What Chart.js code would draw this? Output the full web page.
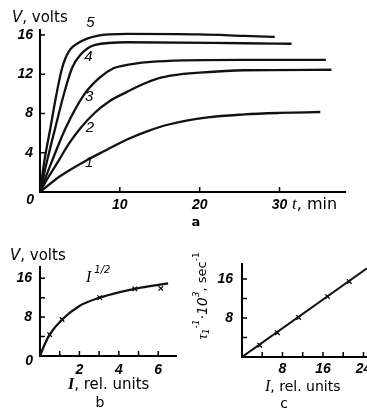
<!DOCTYPE html>
<html>
<head>
<meta charset="utf-8">
<script src="https://cdn.jsdelivr.net/npm/chart.js@4/dist/chart.umd.min.js"></script>
<style>
html,body{margin:0;padding:0;background:#fff;width:367px;height:411px;overflow:hidden;}
canvas{position:absolute;}
#ca{left:0;top:0;}
#cb{left:0;top:240px;}
#cc{left:190px;top:240px;}
</style>
</head>
<body>
<canvas id="ca" width="367" height="235"></canvas>
<canvas id="cb" width="190" height="171"></canvas>
<canvas id="cc" width="177" height="171"></canvas>
<script>
// ---------- DATA ----------
// Panel a: V (volts) vs t (min), curves 1..5
const a1T = [0, 2.5, 5.9, 8.0, 10.9, 13.5, 16, 21, 25.6, 30, 35.1];
const a1V = [0, 1.6, 3.25, 4.15, 5.35, 6.2, 6.85, 7.6, 7.9, 8.05, 8.15];
const a2T = [0, 1.0, 2.3, 3.6, 5.06, 6.9, 8.7, 10.9, 12.8, 14.7, 16.8, 20, 25.6, 36.5];
const a2V = [0, 1.45, 3.15, 4.9, 6.5, 8.1, 9.25, 10.2, 10.95, 11.55, 11.9, 12.15, 12.4, 12.45];
const a3T = [0, 1.5, 3.2, 5.5, 7.4, 9.2, 10.9, 14.7, 25.6, 35.8];
const a3V = [0, 3.15, 6.5, 9.9, 11.6, 12.6, 12.95, 13.3, 13.45, 13.45];
const a4T = [0, 0.88, 1.9, 2.97, 4.0, 5.06, 6.9, 10.9, 25.6, 31.5];
const a4V = [0, 3.15, 6.5, 9.9, 12.6, 13.97, 14.98, 15.25, 15.15, 15.1];
const a5T = [0, 0.54, 1.3, 2.05, 2.76, 3.6, 5.06, 7.15, 10.9, 20, 25.6, 29.4];
const a5V = [0, 3.15, 6.5, 9.9, 12.6, 14.3, 15.3, 15.9, 16.1, 16.05, 15.9, 15.8];
const aCurveNames = ['1', '2', '3', '4', '5'];
const aLabelT = [6.15, 6.24, 6.15, 6.06, 6.3];
const aLabelV = [2.94, 6.5, 9.7, 13.8, 17.2];
const aXTickLabels = [10, 20, 30];
const aYTickLabels = [4, 8, 12, 16];

// Panel b: V vs I (rel. units), I^1/2 curve and measured points
const bCurveI = [0, 0.25, 0.49, 1.12, 2, 3.03, 4, 4.81, 5.5, 6.5];
const bCurveV = [0, 2.5, 4.4, 7.5, 10.3, 12.0, 13.1, 13.8, 14.3, 14.95];
const bPointI = [0.49, 1.12, 3.03, 4.81, 6.13];
const bPointV = [4.4, 7.5, 12.0, 13.8, 13.9];
const bXTickLabels = [2, 4, 6];
const bYTickLabels = [8, 16];

// Panel c: tau^-1 * 10^3 (sec^-1) vs I (rel. units)
const cLineI = [0, 24.7];
const cLineV = [0, 18.2];
const cPointI = [3.5, 7.0, 11.2, 16.9, 21.2];
const cPointV = [2.4, 5.0, 8.1, 12.4, 15.5];
const cXTickLabels = [8, 16, 24];
const cYTickLabels = [8, 16];

// ---------- HELPERS ----------
const zip = (xs, ys) => xs.map((x, i) => ({x: x, y: ys[i]}));
const TICKFONT = {family: '"Liberation Sans Narrow", "Liberation Sans", sans-serif', size: 14, style: 'italic', weight: 'bold'};
const TICKFONT_CSS = 'italic bold 14px "Liberation Sans Narrow", "Liberation Sans", sans-serif';
const SANS = '"DejaVu Sans", sans-serif';

function fixSize(size) {
  return function(scale) {
    if (scale.isHorizontal()) scale.height = size; else scale.width = size;
    scale.paddingLeft = 0; scale.paddingRight = 0; scale.paddingTop = 0; scale.paddingBottom = 0;
  };
}

function axis(min, max, step, labeled, size, pad) {
  return {
    type: 'linear', min: min, max: max,
    border: {display: true, color: '#000', width: 2},
    grid: {display: false, drawTicks: false},
    ticks: {
      stepSize: step, includeBounds: false, autoSkip: false, maxRotation: 0, minRotation: 0,
      padding: pad, color: '#000', font: TICKFONT,
      callback: v => labeled.indexOf(v) >= 0 ? String(v) : ''
    },
    afterFit: fixSize(size)
  };
}

function drawRuns(ctx, runs, x, y, align, rotate) {
  ctx.save();
  ctx.translate(x, y);
  if (rotate) ctx.rotate(rotate);
  let total = 0;
  for (const r of runs) { ctx.font = r.font; total += ctx.measureText(r.t).width + (r.gap || 0); }
  let cx = align === 'center' ? -total / 2 : (align === 'right' ? -total : 0);
  ctx.textBaseline = 'middle';
  ctx.textAlign = 'left';
  ctx.fillStyle = '#000';
  for (const r of runs) {
    ctx.font = r.font;
    ctx.fillText(r.t, cx, r.dy || 0);
    cx += ctx.measureText(r.t).width + (r.gap || 0);
  }
  ctx.restore();
}

const inwardTicks = {
  id: 'inwardTicks',
  afterDraw(chart, args, opts) {
    const ctx = chart.ctx, ca = chart.chartArea;
    const xs = chart.scales.x, ys = chart.scales.y;
    const L = opts.len || 5;
    ctx.save();
    ctx.strokeStyle = '#000';
    ctx.lineWidth = 1.5;
    ctx.beginPath();
    xs.ticks.forEach(t => { if (t.value > 0) { const p = xs.getPixelForValue(t.value); ctx.moveTo(p, ca.bottom); ctx.lineTo(p, ca.bottom - L); } });
    ys.ticks.forEach(t => { if (t.value > 0) { const p = ys.getPixelForValue(t.value); ctx.moveTo(ca.left, p); ctx.lineTo(ca.left + L, p); } });
    ctx.stroke();
    ctx.restore();
  }
};

const textLayer = {
  id: 'textLayer',
  afterDraw(chart, args, opts) {
    const ctx = chart.ctx;
    (opts.items || []).forEach(it => drawRuns(ctx, it.runs, it.x, it.y, it.align || 'left', it.rotate || 0));
    if (opts.dataLabels) {
      const xs = chart.scales.x, ys = chart.scales.y;
      opts.dataLabels.names.forEach((n, i) => {
        drawRuns(ctx, [{t: n, font: 'italic 15px "Liberation Sans", sans-serif'}],
          xs.getPixelForValue(opts.dataLabels.xs[i]), ys.getPixelForValue(opts.dataLabels.ys[i]), 'center', 0);
      });
    }
  }
};

function lineDs(xs, ys) {
  return {data: zip(xs, ys), borderColor: '#111', borderWidth: 2.3, pointRadius: 0,
          cubicInterpolationMode: 'monotone', fill: false};
}
function pointDs(xs, ys) {
  return {data: zip(xs, ys), showLine: false, pointStyle: 'crossRot', pointRadius: 3.2,
          pointBorderColor: '#000', pointBorderWidth: 1.3, borderColor: '#000'};
}

const baseOpts = (layoutPad, scales, texts) => ({
  responsive: false, animation: false, devicePixelRatio: 1,
  layout: {padding: layoutPad, autoPadding: false},
  scales: scales,
  plugins: {legend: {display: false}, tooltip: {enabled: false}, textLayer: texts, inwardTicks: {len: 5}}
});

// ---------- PANEL a ----------
new Chart(document.getElementById('ca'), {
  type: 'line',
  data: {datasets: [lineDs(a1T, a1V), lineDs(a2T, a2V), lineDs(a3T, a3V), lineDs(a4T, a4V), lineDs(a5T, a5V)]},
  options: baseOpts({left: 0, top: 30, right: 22, bottom: 13}, {
    x: axis(0, 38.2, 10, aXTickLabels, 30, 5),
    y: axis(0, 16.5, 4, aYTickLabels, 40, 7)
  }, {
    items: [
      {runs: [{t: 'V', font: 'italic 15px ' + SANS}, {t: ', volts', font: '15px ' + SANS}], x: 12, y: 18.5},
      {runs: [{t: 't', font: 'italic 17px "Liberation Serif", serif'}, {t: ', min', font: '16px ' + SANS}], x: 292, y: 205},
      {runs: [{t: '0', font: TICKFONT_CSS}], x: 34, y: 200, align: 'right'},
      {runs: [{t: 'a', font: 'bold 13px ' + SANS}], x: 196, y: 223, align: 'center'}
    ],
    dataLabels: {names: aCurveNames, xs: aLabelT, ys: aLabelV}
  }),
  plugins: [inwardTicks, textLayer]
});

// ---------- PANEL b ----------
new Chart(document.getElementById('cb'), {
  type: 'line',
  data: {datasets: [lineDs(bCurveI, bCurveV), pointDs(bPointI, bPointV)]},
  options: baseOpts({left: 0, top: 27, right: 14, bottom: 25}, {
    x: axis(0, 6.9, 1, bXTickLabels, 30, 6),
    y: axis(0, 18.3, 4, bYTickLabels, 40, 8)
  }, {
    items: [
      {runs: [{t: 'V', font: 'italic 15px ' + SANS}, {t: ', volts', font: '15px ' + SANS}], x: 10, y: 16},
      {runs: [{t: 'I', font: 'italic 16px "Liberation Serif", serif', gap: 3}, {t: '1/2', font: 'italic 10px ' + SANS, dy: -8}], x: 86, y: 38},
      {runs: [{t: '0', font: TICKFONT_CSS}], x: 33, y: 121, align: 'right'},
      {runs: [{t: 'I', font: 'italic bold 16px "Liberation Serif", serif'}, {t: ', rel. units', font: '15px ' + SANS}], x: 68, y: 145},
      {runs: [{t: 'b', font: '14px ' + SANS}], x: 100, y: 163, align: 'center'}
    ]
  }),
  plugins: [inwardTicks, textLayer]
});

// ---------- PANEL c ----------
new Chart(document.getElementById('cc'), {
  type: 'line',
  data: {datasets: [{data: zip(cLineI, cLineV), borderColor: '#111', borderWidth: 2, pointRadius: 0, tension: 0}, pointDs(cPointI, cPointV)]},
  options: baseOpts({left: 0, top: 24, right: 0, bottom: 24}, {
    x: axis(0, 24.7, 4, cXTickLabels, 30, 4),
    y: axis(0, 19.1, 4, cYTickLabels, 52, 9)
  }, {
    items: [
      {runs: [
        {t: 'τ', font: 'italic 15px "Liberation Serif", serif'},
        {t: '1', font: 'italic 9px ' + SANS, dy: 4},
        {t: '-1', font: 'italic 9px ' + SANS, dy: -6},
        {t: '·10', font: 'italic 14px ' + SANS},
        {t: '3', font: 'italic 9px ' + SANS, dy: -6},
        {t: ', sec', font: '13px ' + SANS},
        {t: '-1', font: '9px ' + SANS, dy: -6}
      ], x: 13, y: 56, align: 'center', rotate: -Math.PI / 2},
      {runs: [{t: 'I', font: 'italic 16px "Liberation Serif", serif'}, {t: ', rel. units', font: '14px ' + SANS}], x: 75, y: 147},
      {runs: [{t: 'c', font: '14px ' + SANS}], x: 94, y: 164, align: 'center'}
    ]
  }),
  plugins: [inwardTicks, textLayer]
});
</script>
</body>
</html>
